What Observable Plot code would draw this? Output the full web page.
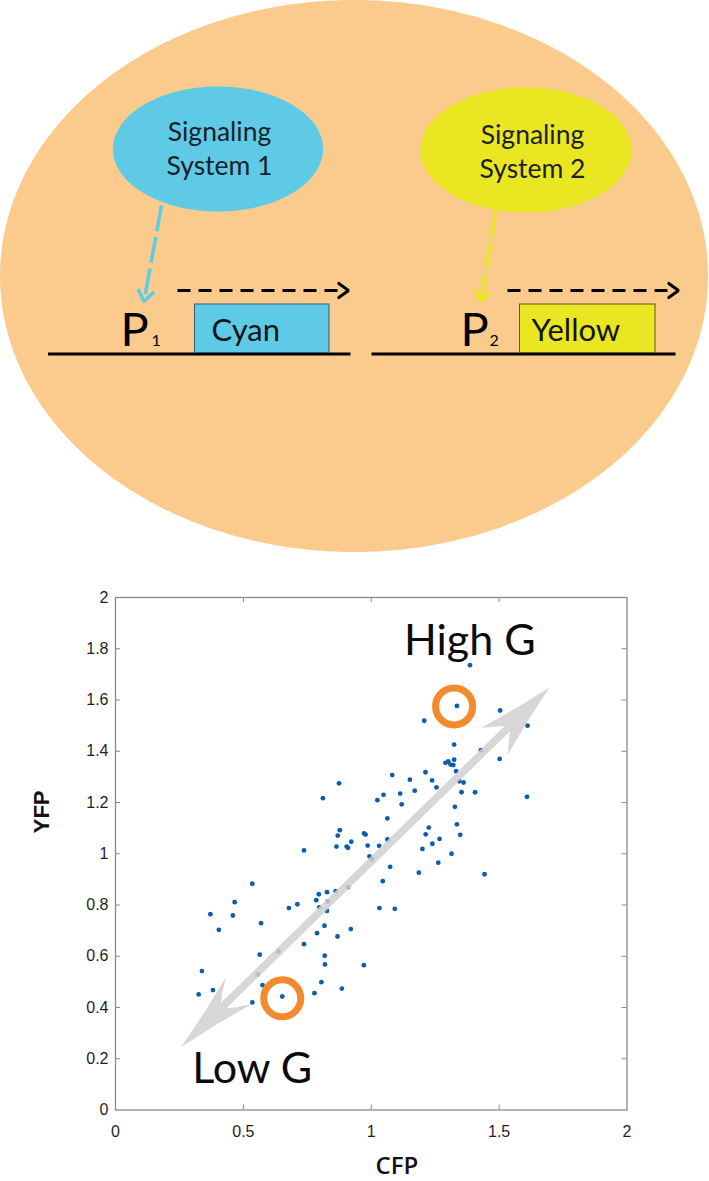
<!DOCTYPE html>
<html><head><meta charset="utf-8">
<script src="https://cdn.jsdelivr.net/npm/d3@7"></script>
<script src="https://cdn.jsdelivr.net/npm/@observablehq/plot@0.6"></script>
<style>
body{margin:0;background:#fff;}
#wrap{width:709px;}
#wrap svg{display:block;}
</style></head><body><div id="wrap"></div>
<script>
// ---------------- scatter data (CFP, YFP per cell) ----------------
const cfp = [1.386,1.335,1.207,1.504,1.611,1.324,1.429,1.502,1.290,1.301,1.310,1.321,1.324,1.332,1.082,1.212,1.151,1.238,1.344,1.361,
  1.255,1.170,1.353,1.406,1.113,1.048,1.024,1.119,1.609,1.327,1.063,1.335,1.225,1.213,1.348,1.267,1.063,1.031,1.239,1.200,
  1.314,1.074,1.262,1.186,1.443,1.045,1.032,1.092,0.874,0.811,0.877,0.869,0.972,0.978,0.864,0.904,0.909,0.922,0.986,0.737,
  0.993,1.002,0.535,0.909,0.861,0.827,0.795,0.785,0.830,0.466,0.711,0.678,0.797,0.827,0.371,0.459,0.569,0.404,0.920,0.817,
  0.788,0.868,0.737,0.638,0.564,0.818,0.819,0.971,0.338,0.556,0.805,0.575,0.325,0.381,0.778,0.885,0.652,0.535];
const yfp = [1.736,1.577,1.519,1.559,1.500,1.426,1.404,1.370,1.355,1.360,1.348,1.346,1.367,1.322,1.307,1.318,1.289,1.286,1.283,1.278,
  1.259,1.246,1.240,1.240,1.235,1.230,1.209,1.193,1.222,1.183,1.138,1.115,1.102,1.076,1.074,1.058,1.056,1.031,1.039,1.019,
  1.000,0.949,0.965,0.926,0.920,0.893,0.788,0.785,1.275,1.217,1.092,1.071,1.079,1.075,1.028,1.028,1.023,1.047,1.032,1.013,
  0.990,0.979,0.883,0.870,0.854,0.850,0.842,0.819,0.814,0.811,0.803,0.788,0.791,0.777,0.764,0.759,0.729,0.703,0.706,0.719,
  0.690,0.677,0.647,0.619,0.606,0.602,0.568,0.565,0.542,0.529,0.499,0.487,0.451,0.468,0.456,0.474,0.443,0.420];
const xTicks = [0, 0.5, 1, 1.5, 2];
const xTickLabels = ["0", "0.5", "1", "1.5", "2"];
const yTicks = [0, 0.2, 0.4, 0.6, 0.8, 1, 1.2, 1.4, 1.6, 1.8, 2];
const yTickLabels = ["0", "0.2", "0.4", "0.6", "0.8", "1", "1.2", "1.4", "1.6", "1.8", "2"];
const xLabel = "CFP";
const yLabel = "YFP";
// highlighted cells and their labels
const highlightNames = ["High G", "Low G"];
const highlightCFP = [1.324, 0.652];
const highlightYFP = [1.575, 0.436];
const highlightLabelCFP = [1.128, 0.300];
const highlightLabelYFP = [1.774, 0.107];
// double arrow along the correlation (data coords of its two tips)
const arrowTipLow = [0.258, 0.247];
const arrowTipHigh = [1.697, 1.649];

// ---------------- schematic (top) ----------------
const systemLabels = ["Signaling\nSystem 1", "Signaling\nSystem 2"];
const systemColors = ["#5ecae6", "#ebe622"];
const reporterNames = ["Cyan", "Yellow"];
const reporterBorders = ["#2f5f6c", "#5e5c1c"];
const promoterNames = ["P", "P"];
const promoterSubs = ["1", "2"];
// layout of schematic (pixel units of the drawing)
const cellShape = [354, 276, 354, 276];           // cx, cy, rx, ry
const systemCX = [218, 526], systemCY = [149, 150], systemRX = [105, 105.5], systemRY = [62.5, 62.5];
const systemTextX = [219, 532], systemTextY = [174, 177];
const signalFrom = [[161, 205], [495, 211]], signalTo = [[143.5, 301], [480, 301]];
const geneX1 = [47.5, 371], geneX2 = [350, 675], geneY = 353.5;
const boxX1 = [194.5, 519.5], boxX2 = [329, 655], boxTop = 304;
const txFrom = [177, 507], txTo = [348, 678], txY = 290;
const promoterX = [120, 460], subX = [151, 489], textBase = 345;
const reporterX = [211, 531], reporterBase = 340;

function ellipseArea(cx, cy, rx, ry) {
  const n = 240, pts = [];
  for (let k = 0; k <= n; k++) {
    const t = Math.PI * k / n;
    pts.push({x: cx + rx * Math.cos(t), y1: cy - ry * Math.sin(t), y2: cy + ry * Math.sin(t)});
  }
  return pts;
}
function chevron(x1, y1, x2, y2, len, half) {
  const L = Math.hypot(x2 - x1, y2 - y1), ux = (x2 - x1) / L, uy = (y2 - y1) / L;
  const a = half * Math.PI / 180, c = Math.cos(a), s = Math.sin(a);
  const w1 = {x: x2 - len * (ux * c - uy * s), y: y2 - len * (uy * c + ux * s)};
  const w2 = {x: x2 - len * (ux * c + uy * s), y: y2 - len * (uy * c - ux * s)};
  return [w1, {x: x2, y: y2}, w2];
}
function shorten(x1, y1, x2, y2, d) {
  const L = Math.hypot(x2 - x1, y2 - y1);
  return {x1, y1, x2: x2 - (x2 - x1) / L * d, y2: y2 - (y2 - y1) / L * d};
}

const topMarks = [
  Plot.area(ellipseArea(...cellShape), {x1: "x", y1: "y1", y2: "y2", fill: "#fbcb8d"}),
  ...systemLabels.map((_, i) => Plot.area(ellipseArea(systemCX[i], systemCY[i], systemRX[i], systemRY[i]),
      {x1: "x", y1: "y1", y2: "y2", fill: systemColors[i]})),
  Plot.text(systemLabels, {x: (d, i) => systemTextX[i], y: (d, i) => systemTextY[i], text: d => d,
      fontSize: 26.5, lineHeight: 1.26, lineAnchor: "bottom", textAnchor: "middle", fill: "#1b1f27"}),
  // signalling dashed arrows
  ...systemLabels.flatMap((_, i) => {
    const [x1, y1] = signalFrom[i], [x2, y2] = signalTo[i];
    return [
      Plot.link([shorten(x1, y1, x2, y2, 3)], {x1: "x1", y1: "y1", x2: "x2", y2: "y2",
        stroke: systemColors[i], strokeWidth: 3.5, strokeDasharray: "26,6"}),
      Plot.line(chevron(x1, y1, x2, y2, 14, 36), {x: "x", y: "y", stroke: systemColors[i], strokeWidth: 3.5,
        strokeLinejoin: "miter", strokeLinecap: "butt"})
    ];
  }),
  // transcription dashed arrows
  ...txFrom.flatMap((x1, i) => [
    Plot.link([{x1, y1: txY, x2: txTo[i] - 3, y2: txY}], {x1: "x1", y1: "y1", x2: "x2", y2: "y2",
      stroke: "#000", strokeWidth: 3, strokeDasharray: "13,8"}),
    Plot.line(chevron(x1, txY, txTo[i], txY, 12, 36), {x: "x", y: "y", stroke: "#000", strokeWidth: 3,
      strokeLinejoin: "miter"})
  ]),
  // DNA lines
  Plot.link(geneX1.map((x1, i) => ({x1, x2: geneX2[i], y: geneY})), {x1: "x1", x2: "x2", y1: "y", y2: "y",
    stroke: "#000", strokeWidth: 3}),
  // reporter boxes
  Plot.rect(reporterNames.map((n, i) => ({n, x1: boxX1[i], x2: boxX2[i]})), {x1: "x1", x2: "x2", y1: boxTop, y2: geneY - 1,
    fill: (d, i) => systemColors[i], stroke: (d, i) => reporterBorders[i], strokeWidth: 1}),
  Plot.text(reporterNames, {x: (d, i) => reporterX[i], y: reporterBase, text: d => d, fontSize: 31,
    textAnchor: "start", lineAnchor: "bottom", fill: "#141414"}),
  Plot.text(promoterNames, {x: (d, i) => promoterX[i], y: textBase, text: d => d, fontSize: 47,
    textAnchor: "start", lineAnchor: "bottom", fill: "#000"}),
  Plot.text(promoterSubs, {x: (d, i) => subX[i], y: textBase, text: d => d, fontSize: 16,
    textAnchor: "start", lineAnchor: "bottom", fill: "#000"})
];

const topPlot = Plot.plot({
  width: 709, height: 560, margin: 0,
  x: {domain: [0, 709], range: [0, 709], axis: null},
  y: {domain: [0, 560], range: [0, 560], axis: null},
  color: {type: "identity"},
  style: {fontFamily: "Lato, 'Open Sans', sans-serif", background: "white", overflow: "visible"},
  marks: topMarks
});

// ---------------- scatter plot ----------------
const W = 709, H = 621, mT = 37, mB = 71.5, mL = 115, mR = 82.5;
const innerW = W - mL - mR, innerH = H - mT - mB;
const kx = innerW / 2, ky = innerH / 2;

function doubleArrow(from, to) {
  const L = [from[0] * kx, from[1] * ky], U = [to[0] * kx, to[1] * ky];
  const len = Math.hypot(U[0] - L[0], U[1] - L[1]);
  const u = [(U[0] - L[0]) / len, (U[1] - L[1]) / len], n = [-u[1], u[0]];
  const P = (base, s, a, p) => ({x: (base[0] + s * a * u[0] + p * n[0]) / kx, y: (base[1] + s * a * u[1] + p * n[1]) / ky});
  const up = [[0, 0], [38, 8.5], [77, 19], [66, 9.5], [59, 3.8]];
  const lo = [[59, 3.8], [66, 9.5], [80, 18.5], [40, 8.5], [0, 0]];
  const pts = [];
  up.forEach(([a, p]) => pts.push(P(U, -1, a, p)));
  lo.forEach(([a, p]) => pts.push(P(L, 1, a, p)));
  lo.slice().reverse().slice(1).forEach(([a, p]) => pts.push(P(L, 1, a, -p)));
  up.slice().reverse().forEach(([a, p]) => pts.push(P(U, -1, a, -p)));
  return pts;
}

const cells = cfp.map((x, i) => ({x, y: yfp[i]}));
const highlights = highlightNames.map((name, i) => ({name, x: highlightCFP[i], y: highlightYFP[i],
  lx: highlightLabelCFP[i], ly: highlightLabelYFP[i]}));
const axisColor = "#8a8a8a";

const scatter = Plot.plot({
  width: W, height: H, marginTop: mT, marginBottom: mB, marginLeft: mL, marginRight: mR,
  x: {domain: [0, 2]},
  y: {domain: [0, 2]},
  style: {fontFamily: "'Liberation Sans', Arial, sans-serif", fontSize: "16px", color: "#1f1f1f", background: "white", overflow: "visible"},
  marks: [
    Plot.frame({stroke: axisColor, strokeWidth: 1.3}),
    Plot.tickX(xTicks.slice(1, -1), {x: d => d, insetTop: innerH - 5, stroke: axisColor}),
    Plot.tickX(xTicks.slice(1, -1), {x: d => d, insetBottom: innerH - 5, stroke: axisColor}),
    Plot.tickY(yTicks.slice(1, -1), {y: d => d, insetRight: innerW - 5, stroke: axisColor}),
    Plot.tickY(yTicks.slice(1, -1), {y: d => d, insetLeft: innerW - 5, stroke: axisColor}),
    Plot.axisX({ticks: xTicks, tickFormat: d => xTickLabels[xTicks.indexOf(d)], tickSize: 0, tickPadding: 16,
      fontSize: 16, label: null}),
    Plot.axisY({ticks: yTicks, tickFormat: d => yTickLabels[yTicks.indexOf(d)], tickSize: 0, tickPadding: 7,
      fontSize: 16, label: null}),
    Plot.dot(cells, {x: "x", y: "y", r: 2.4, fill: "#0c5dab", stroke: "none"}),
    Plot.line(doubleArrow(arrowTipLow, arrowTipHigh), {x: "x", y: "y", fill: "#d0d0d0", fillOpacity: 0.85, stroke: "none"}),
    Plot.dot(highlights, {x: "x", y: "y", r: 18.5, stroke: "#f28a2e", strokeWidth: 7, fill: "none"}),
    Plot.text(highlights, {x: "lx", y: "ly", text: "name", fontSize: 43, fontFamily: "Lato, 'Open Sans', sans-serif",
      textAnchor: "start", lineAnchor: "bottom", fill: "#0a0a0a"}),
    Plot.text([xLabel], {x: 1.1, frameAnchor: "bottom", dy: 64, text: d => d, fontSize: 24, fontWeight: 600,
      fontFamily: "'Open Sans', Lato, sans-serif", lineAnchor: "bottom", fill: "#111"}),
    Plot.text([yLabel], {y: 1.08, frameAnchor: "left", dx: -74, text: d => d, fontSize: 22, fontWeight: "bold",
      rotate: -90, lineAnchor: "middle", fill: "#111"})
  ]
});

const wrap = document.getElementById("wrap");
wrap.appendChild(topPlot);
wrap.appendChild(scatter);
</script>
</body></html>
